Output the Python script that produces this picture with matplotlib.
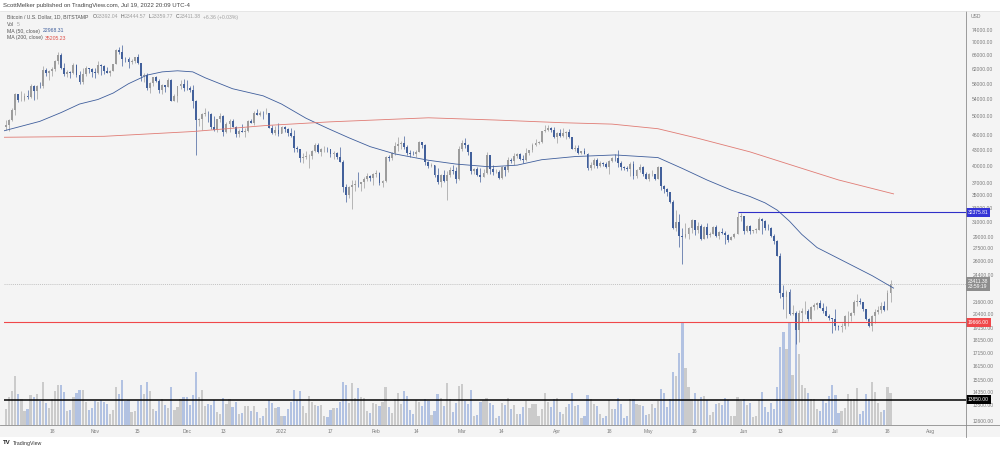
import matplotlib
matplotlib.use("Agg")
import matplotlib.pyplot as plt
import matplotlib.dates as mdates
import matplotlib.transforms as mtrans
from matplotlib.patches import Rectangle
import numpy as np
import pandas as pd

plt.rcParams["font.family"] = ["Liberation Sans", "DejaVu Sans"]

# ------------------------------------------------------------------
# Daily BTC/USD candles (Bitstamp), 2021-10-02 .. 2022-07-20
# open of each day = close of the day before
# ------------------------------------------------------------------
FIRST_DAY = "2021-10-02"
OPEN0 = 48150
LAST_OPEN = 23392.04

CLOSE = [
    # Oct 2-31
    47700, 48200, 49250, 51500, 55300, 53800, 53950, 54950, 54700, 57500,
    56000, 57400, 57350, 61700, 60900, 61500, 62000, 64300, 66000, 62200,
    60700, 61300, 60900, 63100, 60300, 58500, 60600, 62300, 61900, 61300,
    # Nov
    61000, 63200, 62900, 61400, 61000, 61500, 63300, 67500, 66900, 64900,
    64800, 64100, 64400, 65500, 63600, 60100, 60400, 56900, 58100, 59700,
    58700, 56300, 57600, 57200, 58900, 53700, 54800, 57300, 57800, 57000,
    # Dec
    56900, 56500, 53600, 49200, 49400, 50600, 50600, 50500, 47600, 47100,
    49400, 50100, 46700, 48400, 48900, 47600, 46200, 46900, 46700, 46900,
    48900, 48600, 50800, 50400, 50800, 50700, 50700, 47500, 46400, 47100, 46200,
    # Jan
    47700, 47300, 46400, 45800, 43400, 43100, 41500, 41700, 41800, 41800,
    42700, 43900, 42600, 43100, 43200, 43100, 42200, 42400, 41700, 40700,
    36400, 35100, 36300, 36700, 36900, 36800, 37200, 37700, 38200, 37900, 38500,
    # Feb
    38700, 37000, 37300, 41600, 41400, 42400, 43800, 44100, 44400, 43600,
    42400, 42200, 42100, 42600, 44600, 43900, 40600, 40000, 40100, 38400,
    37100, 38300, 37300, 38300, 39200, 39100, 37700, 43200,
    # Mar
    44400, 44000, 42500, 39100, 39400, 38400, 38000, 38700, 41900, 39400,
    38800, 38900, 37800, 39700, 39300, 41100, 40900, 41800, 42200, 41300,
    41000, 42400, 42900, 44000, 44300, 44500, 46800, 47100, 47400, 47100, 45500,
    # Apr
    46300, 45800, 46400, 46600, 45500, 43200, 43400, 42300, 42800, 42200,
    39500, 40100, 41100, 39900, 40500, 40400, 39700, 40800, 41500, 41400,
    40500, 39700, 39500, 39400, 40400, 38100, 39200, 39700, 38600, 37700,
    # May
    38500, 38500, 37700, 39700, 36500, 36000, 35500, 34000, 30100, 31000,
    29100, 29000, 29300, 30100, 31300, 29900, 30400, 28700, 30300, 29200,
    29400, 30300, 29100, 29600, 29500, 29200, 28600, 29000, 29400, 31700, 31800,
    # Jun
    29800, 30450, 29700, 29900, 29900, 31350, 31100, 30200, 30100, 29100,
    28400, 26600, 22500, 22100, 22600, 20400, 20500, 19000, 20550, 20700,
    20700, 19990, 21100, 21230, 21500, 21030, 20740, 20280, 20100, 19930,
    # Jul 1-20
    19300, 19250, 19300, 20200, 20200, 20550, 21600, 21600, 21590, 20850,
    19960, 19320, 20220, 20580, 20830, 21200, 20790, 22450, 23392.04, 23411.38,
]

HIGH = [
    48400, 49300, 49500, 51900, 55700, 55300, 56100, 55500, 56500, 57800,
    57700, 57700, 58500, 62900, 62300, 61700, 62600, 64500, 67000, 66600,
    63700, 61700, 61500, 63700, 63300, 61500, 62400, 62900, 62300, 62400,
    62400, 64300, 63500, 63100, 62600, 61600, 63300, 67800, 68500, 69000,
    65600, 65400, 64900, 65500, 66300, 63600, 60800, 60900, 58400, 59800,
    60000, 59300, 57800, 57700, 59400, 59200, 55300, 57400, 58900, 59200,
    59000, 57400, 57600, 53900, 49700, 50900, 51900, 51200, 50800, 50100,
    49500, 50700, 50300, 48700, 49500, 49400, 47900, 47300, 48300, 47500,
    49300, 49500, 51300, 51800, 51200, 51200, 52000, 50700, 48100, 47900, 48500,
    47900, 47900, 47500, 47500, 47000, 43700, 43100, 42300, 42800, 42200,
    43000, 44300, 44400, 43400, 43800, 43500, 43200, 42700, 42600, 43500,
    41100, 36800, 36500, 37500, 37500, 38900, 37200, 38000, 38700, 38300, 38700,
    39300, 38800, 37500, 41800, 41900, 42600, 44500, 45500, 44800, 45800,
    43900, 43000, 42800, 42900, 44800, 44600, 44200, 40900, 40500, 40200,
    39500, 38500, 39200, 39000, 39700, 40200, 39800, 43800,
    44900, 45400, 44100, 42500, 39600, 39700, 39500, 39400, 42600, 41900,
    40200, 39400, 39300, 39900, 39900, 41700, 41500, 42300, 42400, 42300,
    42000, 43400, 43000, 44300, 45100, 44800, 46900, 48200, 48100, 47700, 47600,
    46700, 47200, 47400, 46900, 47200, 45500, 43900, 43900, 42800, 43400,
    42400, 40700, 41500, 41400, 40800, 40700, 40600, 41000, 41700, 42200,
    42900, 40800, 39900, 39900, 40600, 40800, 39400, 40400, 39900, 38800,
    38700, 39200, 38600, 40000, 39800, 36700, 36100, 35500, 34300, 32700,
    32200, 30100, 30900, 30300, 31400, 31300, 31000, 30700, 30500, 30800,
    29600, 30400, 30600, 29800, 30200, 29800, 29300, 29100, 29500, 32375.81, 32300,
    31900, 30600, 30600, 29900, 30100, 31700, 31500, 31300, 30700, 30300,
    29400, 28500, 26900, 23300, 22800, 22900, 21300, 20700, 20800, 21000,
    21700, 20900, 21200, 21500, 21600, 21800, 21500, 21200, 20400, 20100,
    20900, 19400, 19600, 20300, 20700, 20650, 21800, 22400, 21950, 21600,
    20850, 20050, 20300, 20850, 21200, 21600, 21650, 22800, 23800, 23444.57,
]

LOW = [
    47450, 47100, 46900, 49000, 50400, 53400, 53700, 53700, 54100, 54400,
    53900, 54200, 56800, 56900, 60200, 58900, 60100, 61400, 63500, 62000,
    60000, 59900, 59600, 60700, 59900, 58000, 57900, 60200, 60800, 59900,
    59600, 60700, 60400, 60700, 60800, 60100, 61400, 63300, 66300, 62900,
    64100, 62300, 63400, 63600, 63500, 58600, 58400, 56500, 55600, 57400,
    58500, 55700, 55400, 55900, 57100, 53600, 53700, 53300, 56700, 56000,
    56500, 55800, 52000, 42000, 47800, 47100, 50100, 48700, 47300, 46900,
    46700, 48700, 45700, 46300, 46600, 47600, 45500, 45600, 46500, 45600,
    46700, 48500, 48100, 50400, 50200, 49500, 50500, 47400, 46100, 46000, 45700,
    46300, 46700, 45700, 45500, 42500, 42500, 40700, 40500, 41300, 39650,
    41300, 42500, 42300, 41800, 42600, 42600, 41600, 41300, 41200, 40600,
    35500, 34000, 34600, 32900, 35700, 36300, 35600, 36200, 37300, 37300, 36700,
    38000, 36600, 36300, 37100, 40900, 41100, 41900, 42700, 43200, 43200,
    42000, 41700, 41900, 41600, 42500, 43400, 40100, 39500, 39700, 38000,
    36800, 36400, 37100, 34300, 38000, 38600, 37000, 37500,
    42800, 43400, 41900, 38600, 38600, 38100, 37200, 38000, 38600, 38600,
    38300, 38700, 37600, 37600, 38200, 38900, 40500, 40200, 41500, 41000,
    40500, 40900, 41900, 42600, 43700, 44100, 44400, 46700, 46900, 46500, 45300,
    44300, 45600, 45600, 45200, 45400, 43100, 42800, 42100, 42100, 42100,
    39200, 39300, 39600, 39600, 39800, 40000, 39600, 38600, 40600, 40900,
    39800, 39200, 39300, 39000, 38200, 37700, 37900, 38900, 38200, 37600,
    37400, 38100, 37500, 37700, 35900, 35300, 34800, 33800, 30000, 29800,
    27700, 25600, 28800, 28700, 29500, 29200, 29500, 28600, 28700, 28800,
    28900, 29300, 28900, 28700, 29300, 28000, 28300, 28500, 28800, 29300, 31200,
    29300, 29600, 29300, 29500, 29500, 29900, 29300, 29900, 29950, 28900,
    28100, 26600, 22000, 20900, 20100, 20300, 20300, 17800, 18000, 19700,
    20400, 19800, 19900, 20800, 20900, 20950, 20500, 20200, 19900, 18700,
    18970, 18970, 18800, 19100, 19300, 19800, 20300, 21200, 21350, 20700,
    19900, 19250, 18900, 19650, 20400, 20500, 20750, 20770, 21600, 23359.77,
]

# volume in BTC
VOLUME = [
    1500, 1700, 3000, 3600, 5200, 3300, 2800, 1500, 1700, 3200,
    3000, 3300, 2500, 4600, 2300, 1800, 2800, 3600, 4200, 4200,
    3500, 1500, 1600, 3000, 3400, 3700, 3700, 2400, 1600, 1800,
    2500, 2400, 2600, 2400, 2200, 1200, 1600, 4000, 3300, 4800,
    2500, 2600, 1400, 1500, 2500, 4200, 3300, 4500, 3600, 1700,
    1500, 2500, 2800, 2100, 1800, 4000, 1600, 1900, 2700, 3000,
    3000, 2100, 3200, 5600, 3000, 3700, 2000, 2200, 2100, 2600,
    1400, 1200, 2900, 2200, 2800, 1900, 2400, 1200, 1300, 2000,
    2000, 1500, 2000, 1400, 700, 900, 1800, 2600, 2300, 1800, 1900,
    900, 900, 1700, 2400, 3700, 2600, 3600, 2000, 1300, 3100,
    2400, 2100, 2000, 2100, 900, 800, 1600, 1800, 1800, 2400,
    4600, 4200, 2300, 4400, 2900, 3900, 3000, 2900, 1500, 1300, 2300,
    2200, 2000, 2400, 4000, 1900, 1300, 2700, 3400, 2200, 3600,
    3100, 1600, 1200, 2600, 2400, 2000, 2700, 2500, 1100, 1500,
    3300, 2900, 2000, 4400, 2800, 1400, 2300, 4100,
    4300, 2500, 2200, 3700, 1000, 1100, 2400, 2600, 2900, 2300,
    2100, 700, 1000, 2300, 2100, 2900, 1700, 2100, 1200, 1200,
    1900, 2500, 1800, 2200, 2200, 1000, 1700, 3400, 2400, 1900, 2800,
    2900, 1400, 1200, 1900, 2200, 3400, 2000, 2100, 700, 900,
    3200, 2700, 2200, 2000, 1200, 700, 900, 2600, 1700, 1700,
    2900, 2200, 700, 900, 2800, 2700, 2200, 2100, 2000, 1100,
    1200, 2200, 1800, 2500, 3800, 3400, 1900, 2700, 5600, 5200,
    7600, 10900, 6000, 4000, 2700, 3400, 2600, 3000, 3100, 2600,
    1100, 1400, 2200, 2300, 2100, 2900, 2600, 900, 900, 3000, 2500,
    2800, 2100, 2300, 800, 900, 2600, 3500, 1900, 1400, 2300,
    1700, 4000, 8300, 9800, 8000, 10900, 5300, 10900, 7500, 4200,
    3900, 3400, 2800, 2700, 1700, 1500, 2600, 2300, 3100, 4200,
    3200, 1300, 1500, 1800, 3300, 2800, 2700, 3900, 1200, 1500,
    3300, 2700, 4600, 3500, 2300, 1400, 1600, 4000, 3400, 5,
]

# moving averages
MA50_DATES = ["2021-10-02", "2021-10-14", "2021-10-21", "2021-10-27", "2021-11-02",
              "2021-11-07", "2021-11-12", "2021-11-18", "2021-11-23", "2021-11-28",
              "2021-12-03", "2021-12-07", "2021-12-16", "2021-12-26", "2022-01-01",
              "2022-01-09", "2022-01-16", "2022-01-23", "2022-01-30", "2022-02-07",
              "2022-02-18", "2022-02-27", "2022-03-10", "2022-03-19", "2022-03-27",
              "2022-04-07", "2022-04-20", "2022-05-04", "2022-05-12", "2022-05-20",
              "2022-05-28", "2022-06-03", "2022-06-08", "2022-06-12", "2022-06-16",
              "2022-06-20", "2022-06-25", "2022-07-04", "2022-07-13", "2022-07-20"]
MA50_VALUES = [46800, 48900, 50900, 52900, 54000, 55600, 58000, 60300, 61200, 61500,
               61200, 59600, 56700, 54900, 52900, 49600, 47400, 45400, 43600, 42200,
               41000, 40300, 39800, 40100, 41100, 41700, 42000, 41500, 39500, 37500,
               35800, 34800, 33800, 32700, 31100, 29300, 27600, 25900, 24300, 22968.31]

MA200_DATES = ["2021-10-02", "2021-11-04", "2021-12-03", "2021-12-27", "2022-01-17",
               "2022-02-18", "2022-03-12", "2022-04-03", "2022-04-19", "2022-05-04",
               "2022-05-17", "2022-06-03", "2022-06-19", "2022-07-02", "2022-07-20"]
MA200_VALUES = [45500, 45700, 46700, 48000, 48800, 49700, 49200, 48600, 48300, 47300,
                45300, 42600, 39700, 37500, 35205.23]

PRICE_TICKS = [74000, 70000, 66000, 62000, 58000, 54000, 50000, 46000, 43000, 40000,
               37000, 35000, 33000, 31000, 29000, 27500, 26000, 24400, 21600, 20400,
               19150, 18150, 17150, 16150, 15150, 14350, 13500, 12600]

DATE_TICKS = ["2021-10-18", "2021-11-01", "2021-11-15", "2021-12-01", "2021-12-13",
              "2022-01-01", "2022-01-17", "2022-02-01", "2022-02-14", "2022-03-01",
              "2022-03-14", "2022-04-01", "2022-04-18", "2022-05-01", "2022-05-16",
              "2022-06-01", "2022-06-13", "2022-07-01", "2022-07-18", "2022-08-01"]
DATE_LABELS = ["18", "Nov", "15", "Dec", "13", "2022", "17", "Feb", "14", "Mar",
               "14", "Apr", "18", "May", "16", "Jun", "13", "Jul", "18", "Aug"]

RESISTANCE = 32375.81
RESISTANCE_FROM = "2022-05-30"
SUPPORT = 19666.00
FLOOR = 13850.00
LAST = 23411.38

UP_COL = "#9c9c9c"
DOWN_COL = "#42609b"
UP_VOL = "#cbcbcb"
DOWN_VOL = "#b2c2e2"
PANE = "#f4f4f4"
TXT = "#7a7a7a"

# ------------------------------------------------------------------
days = pd.date_range(FIRST_DAY, periods=len(CLOSE), freq="D")
x = mdates.date2num(days.to_pydatetime())
close = np.array(CLOSE, dtype=float)
high = np.array(HIGH, dtype=float)
low = np.array(LOW, dtype=float)
opn = np.concatenate([[OPEN0], close[:-1]])
opn[-1] = LAST_OPEN
vol = np.array(VOLUME, dtype=float)
up = close >= opn

W, H = 1000, 451
fig = plt.figure(figsize=(W / 100, H / 100), dpi=100)
fig.patch.set_facecolor("white")

# light pane behind chart + scales
fig.patches.append(Rectangle((0, 1 - 437 / H), 1, 426 / H, transform=fig.transFigure,
                             fc=PANE, ec="none", zorder=-5))

rect = [4 / W, 26 / H, 962 / W, 413 / H]
axv = fig.add_axes(rect)
ax = fig.add_axes(rect, sharex=axv)
axv.set_facecolor(PANE)
ax.set_facecolor("none")

# volume overlay
axv.bar(x, vol, width=0.72, color=np.where(up, UP_VOL, DOWN_VOL), linewidth=0)
axv.set_ylim(0, 10900 * 413 / 103)
axv.set_yticks([])
for s in axv.spines.values():
    s.set_visible(False)

# candles
ax.set_yscale("log")
cols = np.where(up, UP_COL, DOWN_COL)
ax.vlines(x, low, high, colors=cols, linewidth=0.5, zorder=3)
body_lo = np.minimum(opn, close)
body_h = np.maximum(np.abs(close - opn), body_lo * 0.002)
ax.bar(x, body_h, bottom=body_lo, width=0.62, color=cols, linewidth=0, zorder=4)

# moving averages
ax.plot(mdates.date2num(pd.to_datetime(MA50_DATES).to_pydatetime()), MA50_VALUES,
        color="#3f5e9c", linewidth=0.6, zorder=5)
ax.plot(mdates.date2num(pd.to_datetime(MA200_DATES).to_pydatetime()), MA200_VALUES,
        color="#e07b74", linewidth=0.6, zorder=5)

# horizontal levels
ax.axhline(SUPPORT, color="#f0474a", linewidth=0.8, zorder=6)
ax.axhline(FLOOR, color="black", linewidth=1.1, zorder=6)
ax.axhline(LAST, color="#b0b0b0", linewidth=0.5, linestyle=(0, (1.5, 1.5)), zorder=2)
x_end = mdates.date2num(pd.Timestamp("2022-08-12 16:00").to_pydatetime())
ax.hlines(RESISTANCE, mdates.date2num(pd.Timestamp(RESISTANCE_FROM).to_pydatetime()),
          x_end, color="#2f2fc8", linewidth=0.8, zorder=6)

ax.set_xlim(mdates.date2num(pd.Timestamp("2021-10-02 07:30").to_pydatetime()), x_end)
ax.set_ylim(12350, 80280)

# price scale
ax.yaxis.tick_right()
ax.set_yticks(PRICE_TICKS)
ax.set_yticklabels([f"{v:.2f}" for v in PRICE_TICKS])
ax.yaxis.set_minor_locator(matplotlib.ticker.NullLocator())
ax.tick_params(axis="y", length=0, pad=4.5, labelsize=3.6, labelcolor=TXT)

# time scale
ax.set_xticks(mdates.date2num(pd.to_datetime(DATE_TICKS).to_pydatetime()))
ax.set_xticklabels(DATE_LABELS)
ax.tick_params(axis="x", length=0, pad=3.2, labelsize=3.6, labelcolor=TXT)
axv.tick_params(axis="x", length=0, labelbottom=False)

for s in ax.spines.values():
    s.set_visible(False)

# scale border lines
fig.add_artist(plt.Line2D([0, 1], [26 / H, 26 / H], color="#8c8c8c", lw=0.6))
fig.add_artist(plt.Line2D([966 / W, 966 / W], [1 - 437 / H, 1 - 11 / H], color="#8c8c8c", lw=0.6))
fig.add_artist(plt.Line2D([0, 1], [1 - 11 / H, 1 - 11 / H], color="#e0e0e0", lw=0.5))

# price scale badges
blend = mtrans.blended_transform_factory(ax.transAxes, ax.transData)
def badge(val, fc, text=None):
    ax.text(1.002, val, text or f"{val:.2f}", transform=blend, ha="left", va="center",
            fontsize=3.6, color="white", clip_on=False, zorder=10, linespacing=1.0,
            bbox=dict(boxstyle="square,pad=0.35", fc=fc, ec="none"))

badge(RESISTANCE, "#3434d6")
badge(SUPPORT, "#f0474a")
badge(FLOOR, "black")
badge(LAST, "#8d8d8d", f"{LAST:.2f}\n23:59:19")
fig.text(971 / W, 1 - 16 / H, "USD", fontsize=3.6, color=TXT, va="center")

# header and legend (pieces laid out left to right, gap in px after each)
renderer = fig.canvas.get_renderer()
def pieces(px, py, parts, size):
    xf = px / W
    for txt, col, gap in parts:
        t = fig.text(xf, 1 - py / H, txt, fontsize=size, color=col, va="center", ha="left")
        xf += (t.get_window_extent(renderer=renderer).width + gap) / W

DARK, LIGHT = "#555555", "#a0a0a0"
pieces(3, 5, [("ScottMelker published on TradingView.com, Jul 19, 2022 20:09 UTC-4", "#444444", 0)], 4.3)
pieces(7, 17, [("Bitcoin / U.S. Dollar, 1D, BITSTAMP", DARK, 4),
               ("O", DARK, 0.3), ("23392.04", LIGHT, 2.5),
               ("H", DARK, 0.3), ("23444.57", LIGHT, 2.5),
               ("L", DARK, 0.3), ("23359.77", LIGHT, 2.5),
               ("C", DARK, 0.3), ("23411.38", LIGHT, 2.5),
               ("+6.36 (+0.03%)", LIGHT, 0)], 3.7)
pieces(7, 24, [("Vol", DARK, 2.5), ("5", LIGHT, 0)], 3.7)
pieces(7, 31, [("MA (50, close)", DARK, 2.5), ("22968.31", "#3f5e9c", 0)], 3.7)
pieces(7, 38, [("MA (200, close)", DARK, 2.5), ("35205.23", "#e0504a", 0)], 3.7)
fig.text(3 / W, 1 - 443 / H, "TV", fontsize=4.4, color="#222222", va="center",
         fontweight="bold")
fig.text(13 / W, 1 - 443 / H, "TradingView", fontsize=3.8, color="#333333", va="center")

fig.savefig("out.png", dpi=100, facecolor=fig.get_facecolor())
